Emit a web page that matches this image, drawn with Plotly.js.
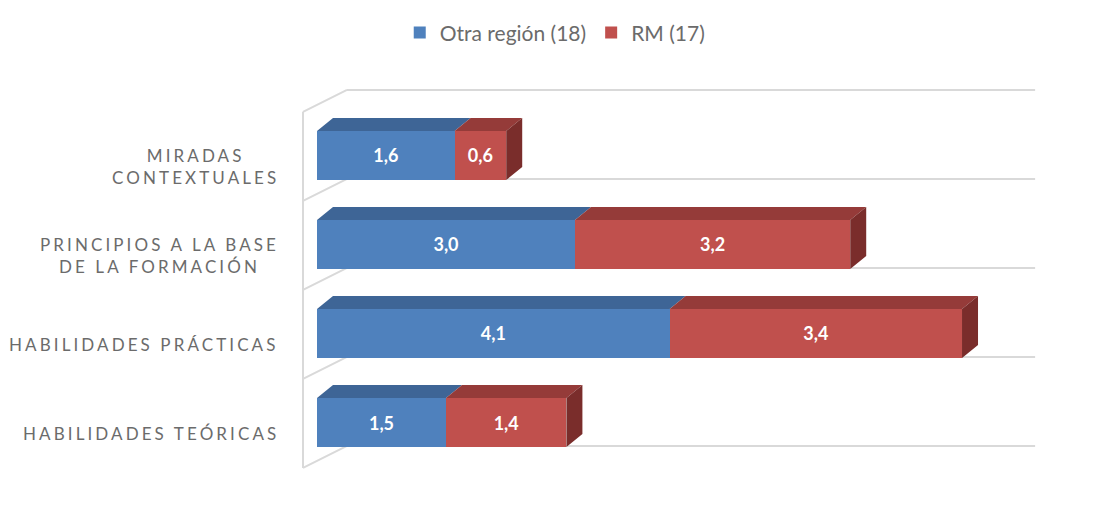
<!DOCTYPE html>
<html>
<head>
<meta charset="utf-8">
<script src="https://cdn.plot.ly/plotly-3.0.1.min.js"></script>
<style>
  html, body { margin: 0; padding: 0; background: #fff; }
  #chart { width: 1100px; height: 525px; }
  .annotation-text { letter-spacing: 3.1px; }
</style>
</head>
<body>
<div id="chart"></div>
<script>
// ---- data (bottom to top) ----
const categories = ['HABILIDADES TEÓRICAS', 'HABILIDADES PRÁCTICAS', 'PRINCIPIOS A LA BASE<br>DE LA FORMACIÓN', 'MIRADAS<br>CONTEXTUALES'];
const otraRegion = [1.5, 4.1, 3.0, 1.6];
const rm = [1.4, 3.4, 3.2, 0.6];
const seriesNames = ['Otra región (18)', 'RM (17)'];

// ---- styling ----
const frontColors = ['#4F81BD', '#C0504D'];
const topColors = ['#3E6596', '#953B39'];
const sideColor = '#7A2D2B';
const BAR_W = 0.55;      // bar thickness in category units
const DX = 0.186;        // 3D depth offset along value axis
const DY = 0.146;        // 3D depth offset along category axis
const gridColor = '#d9d9d9';

const idx = categories.map((_, i) => i);
const series = [otraRegion, rm];

const traces = [];
// front faces (real bars, stacked)
series.forEach((vals, s) => {
  traces.push({
    type: 'bar', orientation: 'h', name: seriesNames[s],
    y: idx, x: vals, width: BAR_W,
    marker: { color: frontColors[s], line: { width: 0 } },
    texttemplate: '%{x:.1f}', textposition: 'inside', insidetextanchor: 'middle',
    textangle: 0, constraintext: 'none',
    textfont: { color: '#ffffff', size: 18, family: 'Lato, sans-serif', weight: 'bold' },
    hoverinfo: 'skip'
  });
});

// 3D faces computed from the same data
const bases = idx.map(() => 0);
series.forEach((vals, s) => {
  const tx = [], ty = [], sx = [], sy = [];
  vals.forEach((v, i) => {
    const x0 = bases[i], x1 = bases[i] + v;
    const yt = i + BAR_W / 2, yb = i - BAR_W / 2;
    tx.push(x0, x1, x1 + DX, x0 + DX, x0, null);
    ty.push(yt, yt, yt + DY, yt + DY, yt, null);
    sx.push(x1, x1 + DX, x1 + DX, x1, x1, null);
    sy.push(yb, yb + DY, yt + DY, yt, yb, null);
    bases[i] = x1;
  });
  traces.push({
    type: 'scatter', mode: 'lines', x: tx, y: ty, fill: 'toself',
    fillcolor: topColors[s], line: { width: 0, color: topColors[s] },
    showlegend: false, hoverinfo: 'skip'
  });
  if (s === series.length - 1) {
    traces.push({
      type: 'scatter', mode: 'lines', x: sx, y: sy, fill: 'toself',
      fillcolor: sideColor, line: { width: 0, color: sideColor },
      showlegend: false, hoverinfo: 'skip'
    });
  }
});

// 3D frame (walls / category dividers)
const WALL_FRONT_X = -0.163, WALL_BACK_X = 0.349, WALL_DY = 0.247, AXIS_END = 8.35;
const shapes = [];
const lo = -0.51, hi = categories.length - 0.51;
shapes.push({ type: 'line', xref: 'x', yref: 'y', x0: WALL_FRONT_X, x1: WALL_FRONT_X, y0: lo, y1: hi,
  line: { color: gridColor, width: 2 }, layer: 'below' });
for (let k = 0; k <= categories.length; k++) {
  const yf = lo + k;
  shapes.push({ type: 'line', xref: 'x', yref: 'y', x0: WALL_FRONT_X, x1: WALL_BACK_X, y0: yf, y1: yf + WALL_DY,
    line: { color: gridColor, width: 2 }, layer: 'below' });
  shapes.push({ type: 'line', xref: 'x', yref: 'y', x0: WALL_BACK_X, x1: AXIS_END, y0: yf + WALL_DY, y1: yf + WALL_DY,
    line: { color: gridColor, width: 2 }, layer: 'below' });
}

// category labels
const annotations = categories.map((c, i) => ({
  xref: 'paper', yref: 'y', x: 0, y: i, xanchor: 'right', yanchor: 'middle',
  xshift: -9, yshift: -11, align: 'center', showarrow: false, text: c,
  font: { family: 'Lato, sans-serif', size: 17, color: '#6b6b6b' }
}));

const layout = {
  width: 1100, height: 525,
  margin: { l: 290, r: 50, t: 80, b: 45 },
  paper_bgcolor: '#ffffff', plot_bgcolor: 'rgba(0,0,0,0)',
  barmode: 'stack', separators: ',.',
  xaxis: { range: [-0.314, 8.523], visible: false, fixedrange: true },
  yaxis: { range: [-0.646, 3.848], visible: false, fixedrange: true },
  showlegend: true,
  legend: { orientation: 'h', x: 0.349, xanchor: 'center', y: 1.118, yanchor: 'middle',
    font: { family: 'Lato, sans-serif', size: 21, color: '#6b6b6b' }, traceorder: 'normal',
    itemwidth: 30 },
  shapes: shapes, annotations: annotations,
  hovermode: false
};

Plotly.newPlot('chart', traces, layout, { displayModeBar: false, staticPlot: true });
</script>
</body>
</html>
